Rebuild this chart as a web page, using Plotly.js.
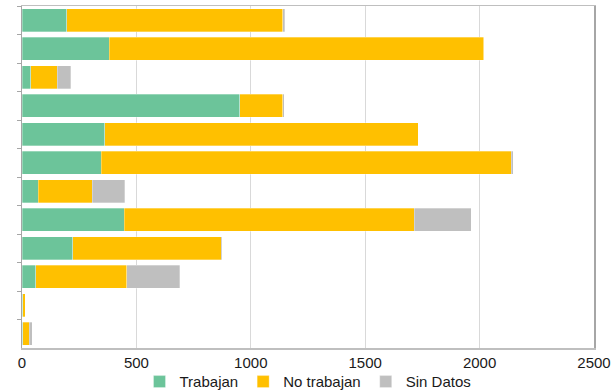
<!DOCTYPE html>
<html>
<head>
<meta charset="utf-8">
<script src="https://cdn.plot.ly/plotly-3.0.1.min.js"></script>
<style>html,body{margin:0;padding:0;background:#fff;}#chart{width:616px;height:392px;}</style>
</head>
<body>
<div id="chart"></div>
<script>
const categories = ["G1","G2","G3","G4","G5","G6","G7","G8","G9","G10","G11","G12"];
const trabajan   = [195, 382, 39, 952, 361, 347, 72, 446, 221, 61, 3, 3];
const noTrabajan = [945, 1636, 114, 188, 1371, 1792, 235, 1269, 650, 396, 11, 29];
const sinDatos   = [8, 3, 60, 7, 0, 8, 142, 248, 4, 232, 1, 13];
const seriesNames = ["Trabajan", "No trabajan", "Sin Datos"];
const seriesColors = ["#6CC49A", "#FFC000", "#BFBFBF"];

const allSeries = [trabajan, noTrabajan, sinDatos];
const traces = allSeries.map((vals, i) => ({
  type: "bar",
  orientation: "h",
  name: seriesNames[i],
  y: categories,
  x: vals,
  marker: {color: seriesColors[i], line: {color: "rgba(255,255,255,0.6)", width: 0.5}},
  hoverinfo: "x+name"
}));

const layout = {
  width: 616, height: 392,
  margin: {l: 22, r: 22, t: 6, b: 44, autoexpand: false},
  barmode: "stack",
  bargap: 0.18,
  paper_bgcolor: "#fff",
  plot_bgcolor: "#fff",
  font: {family: "Liberation Sans, Arial, sans-serif", size: 15, color: "#1a1a1a"},
  xaxis: {
    range: [0, 2500],
    dtick: 500,
    showgrid: true,
    gridcolor: "#D9D9D9",
    gridwidth: 1,
    zeroline: false,
    showline: true,
    linecolor: "#BFBFBF",
    linewidth: 1.5,
    mirror: true,
    ticks: "",
    tickfont: {size: 15, color: "#1a1a1a"}
  },
  yaxis: {
    type: "category",
    autorange: "reversed",
    showticklabels: false,
    showgrid: false,
    zeroline: false,
    showline: true,
    linecolor: "#A6A6A6",
    linewidth: 1.5,
    mirror: true,
    ticks: "outside",
    tickson: "boundaries",
    ticklen: 4,
    tickcolor: "#A6A6A6"
  },
  legend: {
    orientation: "h",
    x: 0.5, xanchor: "center",
    y: -0.099, yanchor: "middle",
    bgcolor: "rgba(0,0,0,0)",
    font: {size: 15, color: "#1a1a1a"},
    itemwidth: 30,
    traceorder: "normal"
  },
  showlegend: true
};

Plotly.newPlot("chart", traces, layout, {displayModeBar: false, staticPlot: true});
</script>
</body>
</html>
